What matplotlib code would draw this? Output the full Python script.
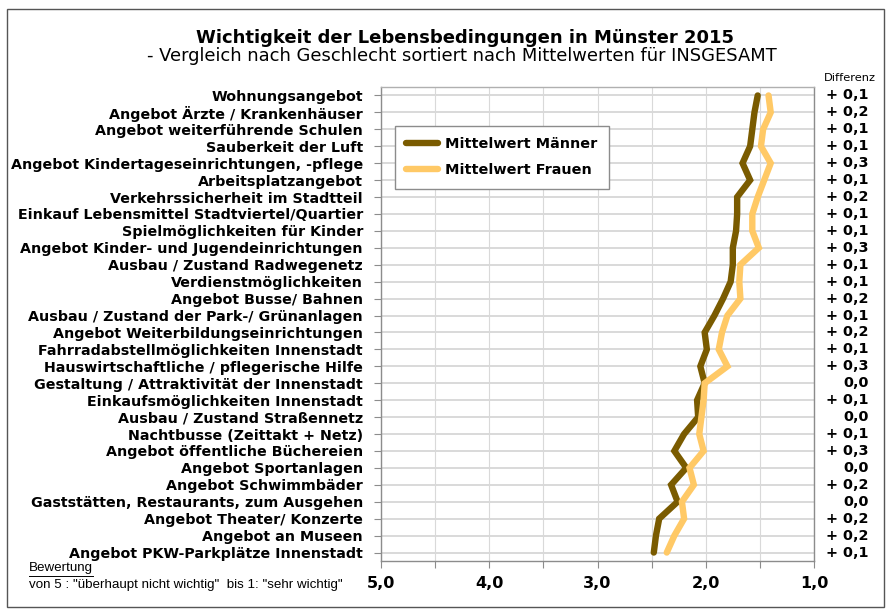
import matplotlib
matplotlib.use("Agg")
import matplotlib.pyplot as plt
import matplotlib.transforms as mtransforms
from matplotlib.patches import Rectangle
from matplotlib.ticker import MultipleLocator

W, H = 889, 610

CATEGORIES = [
    "Wohnungsangebot",
    "Angebot Ärzte / Krankenhäuser",
    "Angebot weiterführende Schulen",
    "Sauberkeit der Luft",
    "Angebot Kindertageseinrichtungen, -pflege",
    "Arbeitsplatzangebot",
    "Verkehrssicherheit im Stadtteil",
    "Einkauf Lebensmittel Stadtviertel/Quartier",
    "Spielmöglichkeiten für Kinder",
    "Angebot Kinder- und Jugendeinrichtungen",
    "Ausbau / Zustand Radwegenetz",
    "Verdienstmöglichkeiten",
    "Angebot Busse/ Bahnen",
    "Ausbau / Zustand der Park-/ Grünanlagen",
    "Angebot Weiterbildungseinrichtungen",
    "Fahrradabstellmöglichkeiten Innenstadt",
    "Hauswirtschaftliche / pflegerische Hilfe",
    "Gestaltung / Attraktivität der Innenstadt",
    "Einkaufsmöglichkeiten Innenstadt",
    "Ausbau / Zustand Straßennetz",
    "Nachtbusse (Zeittakt + Netz)",
    "Angebot öffentliche Büchereien",
    "Angebot Sportanlagen",
    "Angebot Schwimmbäder",
    "Gaststätten, Restaurants, zum Ausgehen",
    "Angebot Theater/ Konzerte",
    "Angebot an Museen",
    "Angebot PKW-Parkplätze Innenstadt",
]

MAENNER = [1.52, 1.55, 1.57, 1.59, 1.66, 1.59, 1.71, 1.71, 1.72, 1.75,
           1.75, 1.77, 1.84, 1.92, 2.01, 1.99, 2.05, 2.01, 2.08, 2.07,
           2.20, 2.29, 2.18, 2.32, 2.26, 2.43, 2.46, 2.48]
FRAUEN = [1.42, 1.40, 1.47, 1.49, 1.40, 1.46, 1.52, 1.57, 1.57, 1.51,
          1.68, 1.69, 1.68, 1.80, 1.85, 1.88, 1.80, 2.01, 2.02, 2.04,
          2.06, 2.02, 2.15, 2.11, 2.22, 2.20, 2.29, 2.36]
DIFFERENZ = ["+ 0,1", "+ 0,2", "+ 0,1", "+ 0,1", "+ 0,3", "+ 0,1", "+ 0,2",
             "+ 0,1", "+ 0,1", "+ 0,3", "+ 0,1", "+ 0,1", "+ 0,2", "+ 0,1",
             "+ 0,2", "+ 0,1", "+ 0,3", "0,0", "+ 0,1", "0,0", "+ 0,1",
             "+ 0,3", "0,0", "+ 0,2", "0,0", "+ 0,2", "+ 0,2", "+ 0,1"]
X_TICKS = [5, 4, 3, 2, 1]

C_M = "#7a5b00"
C_F = "#ffc966"
GRID = "#d9d9d9"
SPINE = "#8c8c8c"


def fx(px):
    return px / W


def fy(py):
    return 1 - py / H


fig = plt.figure(figsize=(W / 100, H / 100), dpi=100)
ax = fig.add_axes([fx(381), fy(561), fx(814) - fx(381), fy(87) - fy(561)])

y = list(range(len(CATEGORIES)))
ax.plot(MAENNER, y, color=C_M, lw=4.6, solid_capstyle="round",
        solid_joinstyle="miter", label="Mittelwert Männer", zorder=3)
ax.plot(FRAUEN, y, color=C_F, lw=4.6, solid_capstyle="round",
        solid_joinstyle="miter", label="Mittelwert Frauen", zorder=3)

ax.set_xlim(5, 1)
ax.set_ylim(len(CATEGORIES) - 0.5, -0.5)
ax.xaxis.set_minor_locator(MultipleLocator(0.5))
ax.set_xticks(X_TICKS)
ax.set_xticklabels([f"{v:.1f}".replace(".", ",") for v in X_TICKS],
                   fontsize=11.5, fontweight="bold")
ax.set_yticks(y)
ax.set_yticklabels(CATEGORIES, fontsize=10.3, fontweight="bold")
ax.tick_params(axis="both", which="both", length=5, color=SPINE, width=0.8)
ax.tick_params(axis="x", pad=6)
ax.tick_params(axis="y", pad=8)

ax.grid(axis="x", which="both", color=GRID, lw=0.8, zorder=0)
ax.grid(axis="y", color=GRID, lw=1.4, zorder=0)
ax.set_axisbelow(True)
for s in ax.spines.values():
    s.set_color(SPINE)
    s.set_linewidth(1.0)
ax.spines["top"].set_color("#b0b0b0")

leg = ax.legend(loc="upper left", bbox_to_anchor=(0.032, 0.918), borderaxespad=0,
                prop={"weight": "bold", "size": 10.4}, fancybox=False,
                edgecolor=SPINE, framealpha=1, handlelength=2.2,
                labelspacing=0.8, borderpad=0.8, handletextpad=0.5)
leg.get_frame().set_linewidth(1.0)

# Differenz column
tr = mtransforms.blended_transform_factory(fig.transFigure, ax.transData)
fig.text(fx(850), fy(78), "Differenz", fontsize=8.2, ha="center", va="center")
for i, d in enumerate(DIFFERENZ):
    ax.text(fx(869), i, d, transform=tr, ha="right", va="center",
            fontsize=10.4, fontweight="bold")

fig.text(fx(465), fy(38), "Wichtigkeit der Lebensbedingungen in Münster 2015",
         fontsize=13, fontweight="bold", ha="center", va="center")
fig.text(fx(462), fy(56),
         "- Vergleich nach Geschlecht sortiert nach Mittelwerten für INSGESAMT",
         fontsize=12.9, ha="center", va="center")

fig.text(fx(29), fy(568), "Bewertung", fontsize=9.6, ha="left", va="center",
         family="Liberation Sans")
fig.add_artist(plt.Line2D([fx(29), fx(93)], [fy(576), fy(576)], color="black", lw=0.7))
fig.text(fx(29), fy(585),
         'von 5 : "überhaupt nicht wichtig"  bis 1: "sehr wichtig"',
         fontsize=9.6, ha="left", va="center", family="Liberation Sans")

fig.add_artist(Rectangle((fx(7), fy(607)), fx(884) - fx(7), fy(9) - fy(607),
                         transform=fig.transFigure, fill=False,
                         edgecolor="#555555", lw=1.0))

fig.savefig("out.png", dpi=100)
